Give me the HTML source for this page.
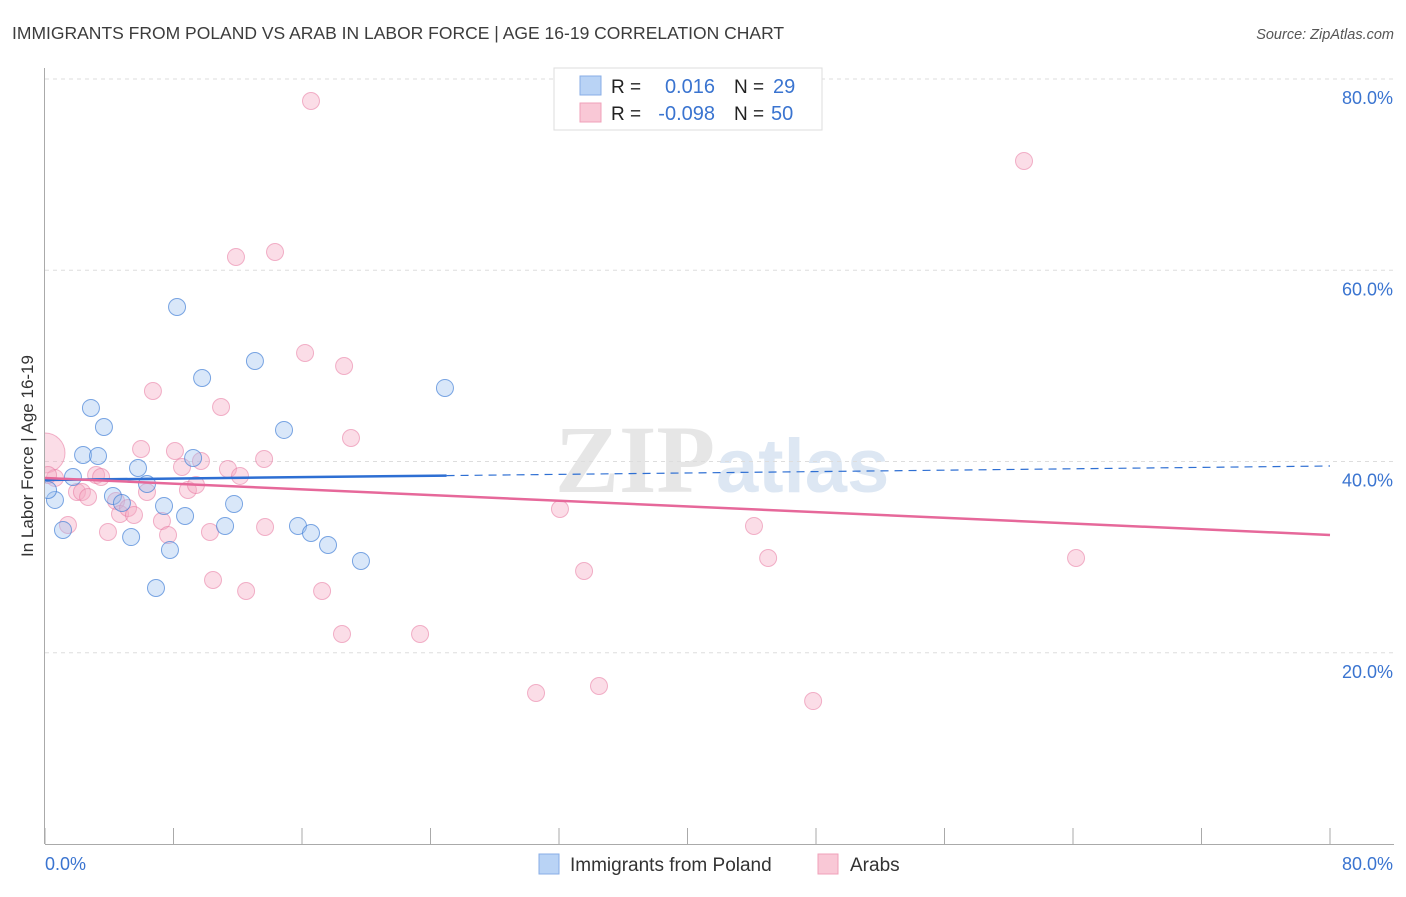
<!DOCTYPE html>
<html><head><meta charset="utf-8"><style>
body{margin:0;background:#fff;font-family:"Liberation Sans",sans-serif;}
</style></head><body>
<svg width="1406" height="892" xmlns="http://www.w3.org/2000/svg" id="svg" font-family="Liberation Sans, sans-serif">
<text x="12" y="39" font-size="17.5" fill="#3c3c3c">IMMIGRANTS FROM POLAND VS ARAB IN LABOR FORCE | AGE 16-19 CORRELATION CHART</text>
<text x="1394" y="39" font-size="14.5" fill="#555" text-anchor="end" font-style="italic">Source: ZipAtlas.com</text>
<g><text x="555" y="492" font-size="96" fill="#e6e6e6" font-family="Liberation Serif, serif" font-weight="bold">ZIP</text><text x="716" y="492" font-size="76" fill="#dde7f3" font-weight="bold">atlas</text></g>
<g id="grid"></g><g id="marks"></g>
<rect x="0" y="60" width="44" height="800" fill="#fff"/>
<text x="33" y="456" font-size="17" fill="#333" text-anchor="middle" transform="rotate(-90 33 456)">In Labor Force | Age 16-19</text>
<g id="axes"></g>
<g>
<rect x="554" y="68" width="268" height="62" fill="#fff" stroke="#ddd"/>
<rect x="580" y="76" width="21" height="19" fill="#b9d3f5" stroke="#88aee6"/>
<rect x="580" y="103" width="21" height="19" fill="#f9c8d6" stroke="#f0a1b9"/>
<text x="611" y="93" font-size="19" fill="#222">R =</text><text x="715" y="93" font-size="20" fill="#3a74d0" text-anchor="end">0.016</text>
<text x="734" y="93" font-size="19" fill="#222">N =</text><text x="773" y="93" font-size="20" fill="#3a74d0">29</text>
<text x="611" y="120" font-size="19" fill="#222">R =</text><text x="715" y="120" font-size="20" fill="#3a74d0" text-anchor="end">-0.098</text>
<text x="734" y="120" font-size="19" fill="#222">N =</text><text x="771" y="120" font-size="20" fill="#3a74d0">50</text>
</g>
<g>
<rect x="539" y="854" width="20" height="20" fill="#b9d3f5" stroke="#88aee6"/>
<text x="570" y="871" font-size="19" fill="#333">Immigrants from Poland</text>
<rect x="818" y="854" width="20" height="20" fill="#f9c8d6" stroke="#f0a1b9"/>
<text x="850" y="871" font-size="19" fill="#333">Arabs</text>
</g>
</svg>
<script>
const yTicks=[20,40,60,80];
const yTickLabels=["20.0%","40.0%","60.0%","80.0%"];
const xTicks=[0,8,16,24,32,40,48,56,64,72,80];
const blueX=[0.62,1.12,1.74,2.37,2.86,3.30,3.67,4.23,4.79,5.36,5.79,6.35,6.91,7.41,7.78,8.22,8.72,9.22,9.78,11.21,11.77,13.07,14.88,15.75,16.56,17.62,19.67,24.9,0.19];
const blueY=[35.98,32.84,38.38,40.68,45.6,40.58,43.61,36.39,35.66,32.1,39.32,37.65,26.77,35.35,30.75,56.16,34.3,40.37,48.73,33.26,35.56,50.51,43.3,33.26,32.52,31.27,29.6,47.69,37.02];
const pinkX=[0,0.62,1.43,1.99,2.30,2.68,3.18,3.49,3.92,4.42,4.67,5.17,5.54,5.98,6.35,6.72,7.28,7.66,8.09,8.53,8.90,9.40,9.71,10.27,10.46,10.96,11.39,11.89,12.14,12.52,13.64,13.70,14.32,16.19,16.56,17.25,18.49,18.62,19.05,23.35,30.57,32.06,33.56,34.49,44.14,45.02,47.82,60.95,64.19,0.19];
const pinkY=[40.89,38.28,33.36,36.81,36.81,36.29,38.59,38.38,32.63,35.87,34.51,35.14,34.41,41.31,36.81,47.37,33.78,32.31,41.1,39.43,37.02,37.54,40.05,32.63,27.61,45.7,39.22,61.39,38.49,26.46,40.26,33.15,61.91,51.35,77.7,26.46,21.96,49.99,42.46,21.96,15.79,35.03,28.55,16.52,33.26,29.91,14.95,71.43,29.91,38.59];
const blueTrend=[38.07,39.53];
const pinkTrend=[38.28,32.32];
const NS="http://www.w3.org/2000/svg";
const sx=v=>45+v/80*1285, sy=v=>844-v/80*765;
function mk(t,a,p){const e=document.createElementNS(NS,t);for(const k in a)e.setAttribute(k,a[k]);p.appendChild(e);return e;}
const grid=document.getElementById('grid'),axes=document.getElementById('axes'),marks=document.getElementById('marks');
yTicks.forEach((v,i)=>{
 const l=mk('line',{x1:45,x2:1394,y1:sy(v),y2:sy(v),stroke:'#ddd','stroke-dasharray':'4 4'},grid);
 
 
 const t=mk('text',{x:1393,y:sy(v)+25,'font-size':18,fill:'#3a74d0','text-anchor':'end'},axes);t.textContent=yTickLabels[i];
 
 
});
mk('line',{x1:44.5,x2:44.5,y1:68,y2:844,stroke:'#aaa'},axes);
mk('line',{x1:45,x2:1394,y1:844.5,y2:844.5,stroke:'#aaa'},axes);
xTicks.forEach(v=>{const l=mk('line',{x1:sx(v),x2:sx(v),y1:828,y2:844,stroke:'#aaa'},axes);
 
 });
let t0=mk('text',{x:45,y:870,'font-size':18,fill:'#3a74d0'},axes);t0.textContent='0.0%';


let t1=mk('text',{x:1393,y:870,'font-size':18,fill:'#3a74d0','text-anchor':'end'},axes);t1.textContent='80.0%';


pinkX.forEach((x,i)=>{const c=mk('circle',{cx:sx(x),cy:sy(pinkY[i]),r:i==0?20:8.5,fill:'rgba(246,170,195,0.4)',stroke:'rgba(232,120,160,0.55)'},marks);
 
 });
blueX.forEach((x,i)=>{const c=mk('circle',{cx:sx(x),cy:sy(blueY[i]),r:8.5,fill:'rgba(160,195,240,0.4)',stroke:'rgba(70,130,215,0.7)'},marks);
 
 });
const by=x=>blueTrend[0]+(blueTrend[1]-blueTrend[0])*x/80;
let bl=mk('line',{x1:sx(0),y1:sy(by(0)),x2:sx(25),y2:sy(by(25)),stroke:'#2e6fd3','stroke-width':2.5},marks);


let bd=mk('line',{x1:sx(25),y1:sy(by(25)),x2:sx(80),y2:sy(by(80)),stroke:'#2e6fd3','stroke-width':1.2,'stroke-dasharray':'8 6'},marks);


let pl=mk('line',{x1:sx(0),y1:sy(pinkTrend[0]),x2:sx(80),y2:sy(pinkTrend[1]),stroke:'#e6689a','stroke-width':2.5},marks);


</script>
</body></html>
